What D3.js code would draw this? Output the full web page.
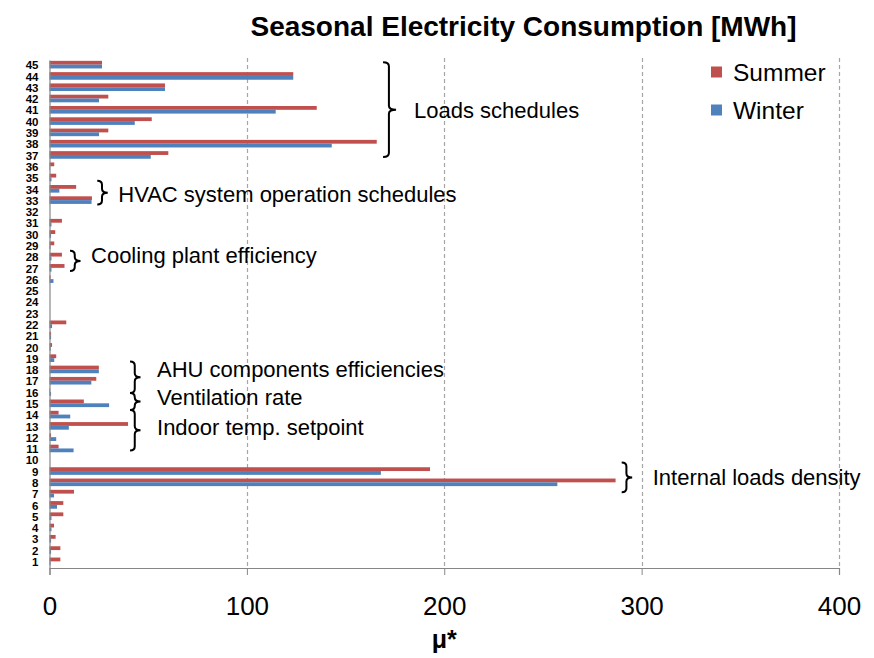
<!DOCTYPE html>
<html>
<head>
<meta charset="utf-8">
<script src="https://cdn.jsdelivr.net/npm/d3@7"></script>
<style>
  body { margin: 0; background: #fff; }
  svg { display: block; font-family: "Liberation Sans", Arial, sans-serif; }
</style>
</head>
<body>
<div id="chart"></div>
<script>
var categories = d3.range(1, 46)

var summer = [5.5, 5.5, 3.1, 2.3, 7, 7, 12.4, 286.8, 192.8, 0,
  4.6, 0.8, 39.8, 4.6, 17.4, 0.3, 23.7, 25, 3.4, 1.3,
  0.8, 8.5, 0, 0, 0, 0.5, 7.6, 6.3, 2.4, 2.9,
  6.3, 0, 21.5, 13.5, 3.4, 2.4, 60.2, 165.8, 29.8, 51.8,
  135.4, 29.8, 58.5, 123.5, 26.6]

var winter = [0.5, 0.8, 0.8, 1, 1, 3.8, 2.3, 257.3, 167.9, 0,
  12.2, 3.4, 9.8, 10.5, 30.2, 0.8, 21.2, 25, 2.4, 0.6,
  0.8, 1.3, 0, 0, 0, 2, 1, 1, 0.5, 0.8,
  1, 0, 21.3, 5, 1, 0.3, 51.3, 143, 25.1, 43.2,
  114.6, 25.1, 58.5, 123.5, 26.6]

var seriesNames = ['Summer', 'Winter']
var xTicks = [0, 100, 200, 300, 400]

// parameter groups: lo/hi in band units from the bottom, at = brace x in data units
var groups = [
  {label: 'Loads schedules', lo: 36.4, hi: 44.8, at: 169, textAt: 39.86},
  {label: 'HVAC system operation schedules', lo: 32.2, hi: 34.3, at: 24.2, textAt: 32.44},
  {label: 'Cooling plant efficiency', lo: 26.3, hi: 28.1, at: 10.4, textAt: 26.99},
  {label: 'AHU components efficiencies', lo: 15.5, hi: 18.3, at: 40.8, textAt: 16.94},
  {label: 'Ventilation rate', lo: 14, hi: 15.5, at: 40.8, textAt: 14.44},
  {label: 'Indoor temp. setpoint', lo: 10.4, hi: 14, at: 40.8, textAt: 11.78},
  {label: 'Internal loads density', lo: 6.7, hi: 9.35, at: 289.9, textAt: 7.35}
]

var width = 874, height = 658
var plot = {left: 49.5, right: 839, top: 60, bottom: 568}
var colors = {Summer: '#C0504D', Winter: '#4F81BD'}

var svg = d3.select('#chart').append('svg')
  .attr('width', width)
  .attr('height', height)

var x = d3.scaleLinear().domain([0, 400]).range([plot.left, plot.right])
var y = d3.scaleBand().domain(categories.slice().reverse()).range([plot.top, plot.bottom]).padding(0)
var yPos = d3.scaleLinear().domain([0, categories.length]).range([plot.bottom, plot.top])

var barH = 3.8
var sub = d3.scaleBand().domain(seriesNames).range([0, barH*2])
var subOffset = (y.bandwidth() - barH*2)/2 - 1

// gridlines
svg.append('g').selectAll('line')
  .data(xTicks.filter(d => d > 0))
  .join('line')
  .attr('x1', d => Math.round(x(d)) + 0.5)
  .attr('x2', d => Math.round(x(d)) + 0.5)
  .attr('y1', plot.top - 2)
  .attr('y2', plot.bottom)
  .attr('stroke', '#a6a6a6')
  .attr('stroke-width', 1.2)
  .attr('stroke-dasharray', '4,3')

// bars
var rows = categories.map((c, i) => ({cat: c, values: [
  {key: 'Summer', v: summer[i]},
  {key: 'Winter', v: winter[i]}
]}))

var rowSel = svg.append('g').selectAll('g')
  .data(rows)
  .join('g')
  .attr('transform', d => 'translate(0,' + (y(d.cat) + subOffset) + ')')

rowSel.selectAll('rect')
  .data(d => d.values)
  .join('rect')
  .attr('x', x(0))
  .attr('y', d => sub(d.key))
  .attr('width', d => x(d.v) - x(0))
  .attr('height', sub.bandwidth())
  .attr('fill', d => colors[d.key])

// axes
var xAxis = svg.append('g')
  .attr('transform', 'translate(0,' + plot.bottom + ')')
  .call(d3.axisBottom(x).tickValues(xTicks).tickSize(7).tickPadding(22))
xAxis.select('.domain').attr('stroke', '#868686').attr('stroke-width', 1.2)
xAxis.selectAll('.tick line').attr('stroke', '#868686')
xAxis.selectAll('.tick text')
  .attr('font-size', 26)
  .attr('font-family', '"Liberation Sans", Arial, sans-serif')
  .attr('fill', '#000')

var yAxis = svg.append('g')
  .attr('transform', 'translate(' + plot.left + ',0)')
  .call(d3.axisLeft(y).tickSize(0).tickPadding(11))
yAxis.select('.domain').attr('stroke', '#868686').attr('stroke-width', 1.2)
yAxis.selectAll('.tick text')
  .attr('font-size', 11.5)
  .attr('font-weight', 'bold')
  .attr('font-family', '"Liberation Sans", Arial, sans-serif')
  .attr('fill', '#000')

// titles
svg.append('text')
  .attr('x', 523.5)
  .attr('y', 36)
  .attr('text-anchor', 'middle')
  .attr('font-size', 28)
  .attr('font-weight', 'bold')
  .text('Seasonal Electricity Consumption [MWh]')

svg.append('text')
  .attr('x', x(200))
  .attr('y', 648)
  .attr('text-anchor', 'middle')
  .attr('font-size', 25)
  .attr('font-weight', 'bold')
  .text('μ*')

// legend
var legend = svg.append('g').attr('transform', 'translate(711,0)')
var legendItem = legend.selectAll('g')
  .data(seriesNames)
  .join('g')
  .attr('transform', (d, i) => 'translate(0,' + (72 + i*38) + ')')
legendItem.append('rect')
  .attr('x', 0).attr('y', -5.5)
  .attr('width', 11).attr('height', 11)
  .attr('fill', d => colors[d])
legendItem.append('text')
  .attr('x', 22)
  .attr('y', 8.5)
  .attr('font-size', 24.5)
  .text(d => d)

// braces and group labels
function brace(x0, y0, y1, w){
  var xm = x0 + w*0.45, ym = (y0 + y1)/2, r = Math.min(4, (y1 - y0)/4)
  return 'M' + x0 + ',' + y0 +
    'Q' + xm + ',' + y0 + ' ' + xm + ',' + (y0 + r) +
    'L' + xm + ',' + (ym - r) +
    'Q' + xm + ',' + ym + ' ' + (x0 + w) + ',' + ym +
    'Q' + xm + ',' + ym + ' ' + xm + ',' + (ym + r) +
    'L' + xm + ',' + (y1 - r) +
    'Q' + xm + ',' + y1 + ' ' + x0 + ',' + y1
}

var annoSel = svg.append('g').selectAll('g')
  .data(groups)
  .join('g')

annoSel.append('path')
  .attr('d', d => brace(x(d.at), yPos(d.hi), yPos(d.lo), d.label == 'Loads schedules' ? 13 : 10.5))
  .attr('fill', 'none')
  .attr('stroke', '#000')
  .attr('stroke-width', 2)

annoSel.append('text')
  .attr('x', d => x(d.at) + (d.label == 'Loads schedules' || d.label == 'Internal loads density' ? 31 : d.at > 30 ? 27 : 21))
  .attr('y', d => yPos(d.textAt))
  .attr('font-size', 22)
  .text(d => d.label)
</script>
</body>
</html>
